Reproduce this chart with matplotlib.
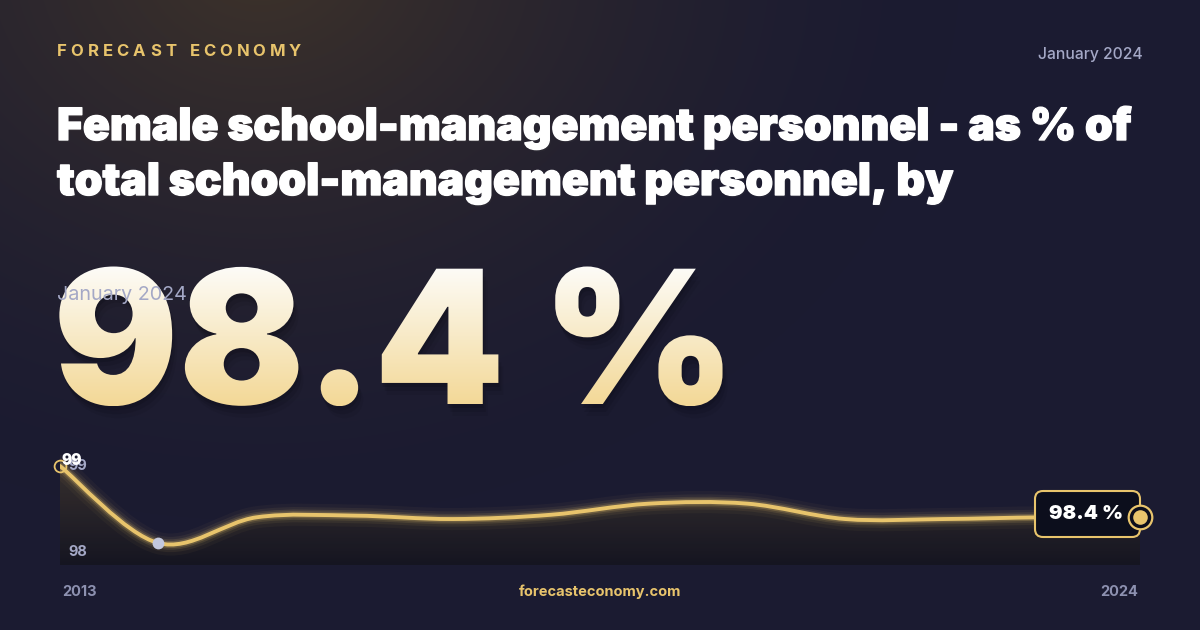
import numpy as np
import matplotlib.pyplot as plt
import matplotlib.patheffects as pe
from matplotlib.path import Path
from matplotlib.patches import PathPatch, FancyBboxPatch
from matplotlib.textpath import TextPath
from matplotlib.font_manager import FontProperties
from matplotlib.transforms import Affine2D

years = [2013, 2014, 2015, 2016, 2017, 2018, 2019, 2020, 2021, 2022, 2023, 2024]
values = [99.0, 98.1, 98.4, 98.42, 98.38, 98.43, 98.56, 98.56, 98.38, 98.38, 98.4, 98.4]

brand = "FORECAST ECONOMY"
date_label = "January 2024"
title_lines = ["Female school-management personnel - as % of",
               "total school-management personnel, by"]
big_value = "98.4 %"
site = "forecasteconomy.com"

GOLD = "#e8c46c"
GRAY = "#a4a8c6"
DIM = "#8d91b0"
FONT = "Inter"

fig = plt.figure(figsize=(12, 6.3), dpi=100)

# background in pixel coords (y down)
bg = fig.add_axes([0, 0, 1, 1])
bg.set_xlim(0, 1200)
bg.set_ylim(630, 0)
bg.axis("off")
yy, xx = np.mgrid[0:630, 0:1200]
d = np.sqrt((xx - 260) ** 2 + ((yy + 40) / 0.8) ** 2)
w = np.clip(1 - d / 700, 0, 1) ** 1.6
base = np.array([0x1b, 0x1b, 0x31]) / 255
warm = np.array([0x3e, 0x33, 0x2a]) / 255
img = base[None, None, :] * (1 - w[..., None]) + warm[None, None, :] * w[..., None]
bg.imshow(img, extent=(0, 1200, 630, 0), aspect="auto", zorder=0)

# header
fp_brand = FontProperties(family=FONT, weight="bold", size=12)
x = 57
for ch in brand:
    bg.text(x, 52, ch, color=GOLD, fontproperties=fp_brand, va="center", ha="left")
    w_ch = TextPath((0, 0), ch if ch != " " else "n", size=16.7, prop=fp_brand).get_extents().width
    x += (w_ch if ch != " " else 3) + 5.6
bg.text(1143, 54, date_label, color=GRAY, fontsize=11.3, family=FONT, fontweight="medium",
        ha="right", va="center")

for i, line in enumerate(title_lines):
    bg.text(57, 140 + i * 55, line, color="white", fontsize=32, family=FONT,
            fontweight="black", va="baseline", ha="left",
            path_effects=[pe.withSimplePatchShadow(offset=(1, -1.5), alpha=0.15),
                          pe.withStroke(linewidth=1.0, foreground="white")])


def text_patch(s, x0, y0, size, fp):
    tp = TextPath((0, 0), s, size=size, prop=fp)
    v = tp.vertices.copy()
    v[:, 0] += x0
    v[:, 1] = y0 - v[:, 1]
    return Path(v, tp.codes)


fp_big = FontProperties(family=FONT, weight="black")
big_path = text_patch(big_value, 53, 404, 186, fp_big)
for off, a in [((1, 4), 0.12), ((3, 8), 0.08), ((5, 12), 0.05)]:
    bg.add_patch(PathPatch(big_path.transformed(Affine2D().translate(*off)),
                           facecolor="black", edgecolor="none", alpha=a, zorder=1))
clip = PathPatch(big_path, facecolor="none", edgecolor="none", transform=bg.transData)
bg.add_patch(clip)
ext = big_path.get_extents()
grad = np.linspace(0, 1, 256)[:, None]
top_c = np.array([0xfd, 0xfc, 0xf8]) / 255
bot_c = np.array([0xf3, 0xd8, 0x96]) / 255
gimg = top_c[None, None, :] * (1 - grad[..., None]) + bot_c[None, None, :] * grad[..., None]
gimg = np.repeat(gimg, 2, axis=1)
im = bg.imshow(gimg, extent=(ext.x0, ext.x1, ext.y1, ext.y0), aspect="auto", zorder=2)
im.set_clip_path(clip)
bg.text(57, 295, date_label, color=GRAY, fontsize=14.2, family=FONT, va="center", ha="left", zorder=3)

# footer
bg.text(62, 592, str(years[0]), color=DIM, fontsize=10.5, family=FONT, fontweight="bold", va="center")
bg.text(1138, 592, str(years[-1]), color=DIM, fontsize=10.5, family=FONT, fontweight="bold",
        va="center", ha="right")
bg.text(600, 592, site, color=GOLD, fontsize=10.5, family=FONT, fontweight="bold", va="center", ha="center")

# chart
ax = fig.add_axes([60 / 1200, 65 / 630, 1080 / 1200, 110 / 630])
ax.patch.set_alpha(0)
ax.axis("off")
vmin, vmax = min(values), max(values)
rng = vmax - vmin
ax.set_xlim(years[0], years[-1])
ax.set_ylim(vmin - rng * 22 / 77, vmax + rng * 11 / 77)

# smooth curve (Catmull-Rom as bezier segments)
P = np.column_stack([years, values]).astype(float)
verts = [P[0]]
codes = [Path.MOVETO]
n = len(P)
for i in range(n - 1):
    p0 = P[max(i - 1, 0)]
    p1, p2 = P[i], P[i + 1]
    p3 = P[min(i + 2, n - 1)]
    verts += [p1 + (p2 - p0) / 6, p2 - (p3 - p1) / 6, p2]
    codes += [Path.CURVE4] * 3
curve = Path(verts, codes)

lo = ax.get_ylim()[0]
fill_path = Path(verts + [(years[-1], lo), (years[0], lo), verts[0]],
                 codes + [Path.LINETO, Path.LINETO, Path.CLOSEPOLY])
fclip = PathPatch(fill_path, facecolor="none", edgecolor="none")
ax.add_patch(fclip)
fg = np.linspace(0, 1, 256)[:, None]
c_top = np.array([0x3a, 0x32, 0x2e]) / 255
c_bot = np.array([0x15, 0x15, 0x20]) / 255
fimg = np.concatenate([(c_top * (1 - fg[..., None]) + c_bot * fg[..., None]),
                       np.full((256, 1, 1), 0.9)], axis=2)
fimg = np.repeat(fimg, 2, axis=1)
fim = ax.imshow(fimg, extent=(years[0], years[-1], lo, vmax), aspect="auto", zorder=1)
fim.set_clip_path(fclip)

for lw, a in [(16, 0.04), (11, 0.07), (7.5, 0.12), (5, 0.22)]:
    ax.add_patch(PathPatch(curve, facecolor="none", edgecolor=GOLD, lw=lw, alpha=a, zorder=2,
                           capstyle="round"))
ax.add_patch(PathPatch(curve, facecolor="none", edgecolor=GOLD, lw=2.8, zorder=3, capstyle="round"))

imin = int(np.argmin(values))
ax.plot(years[imin], values[imin], "o", ms=8.5, color="#c3c8de", mec="none", zorder=4)
ax.plot(years[0], values[0], "o", ms=8.5, mfc="none", mec=GOLD, mew=1.3, zorder=4, clip_on=False)

ax.text(years[0] + 0.09, 99, "99", color=GRAY, fontsize=10.5, family=FONT, fontweight="bold",
        va="center", ha="left", zorder=5)
ax.text(years[0] + 0.02, values[0] + 0.06, f"{values[0]:.0f}", color="white", fontsize=11,
        family=FONT, fontweight="black", va="center", ha="left", zorder=6)
ax.text(years[0] + 0.09, 98, "98", color=GRAY, fontsize=10.5, family=FONT, fontweight="bold",
        va="center", ha="left", zorder=5)

# value box on top layer (pixel coords)
top = fig.add_axes([0, 0, 1, 1])
top.set_xlim(0, 1200)
top.set_ylim(630, 0)
top.axis("off")
top.patch.set_alpha(0)
box = FancyBboxPatch((1035 + 8, 491 + 8), 105 - 16, 46 - 16, boxstyle="round,pad=8",
                     facecolor="#0c0e1c", edgecolor=GOLD, lw=1.5, zorder=4)
top.add_patch(box)
top.text(1086, 514, f"{values[-1]:.1f} %", color="white", fontsize=14.5, family=FONT,
         fontweight="black", ha="center", va="center", zorder=5)

# end marker on top of the box
ax2 = fig.add_axes(ax.get_position())
ax2.set_xlim(ax.get_xlim())
ax2.set_ylim(ax.get_ylim())
ax2.axis("off")
ax2.patch.set_alpha(0)
ax2.plot(years[-1], values[-1], "o", ms=17, mfc="#0c0e1c", mec=GOLD, mew=1.6, clip_on=False)
ax2.plot(years[-1], values[-1], "o", ms=10.5, color=GOLD, mec="none", clip_on=False)

fig.savefig("out.png", dpi=100, facecolor=fig.get_facecolor())
